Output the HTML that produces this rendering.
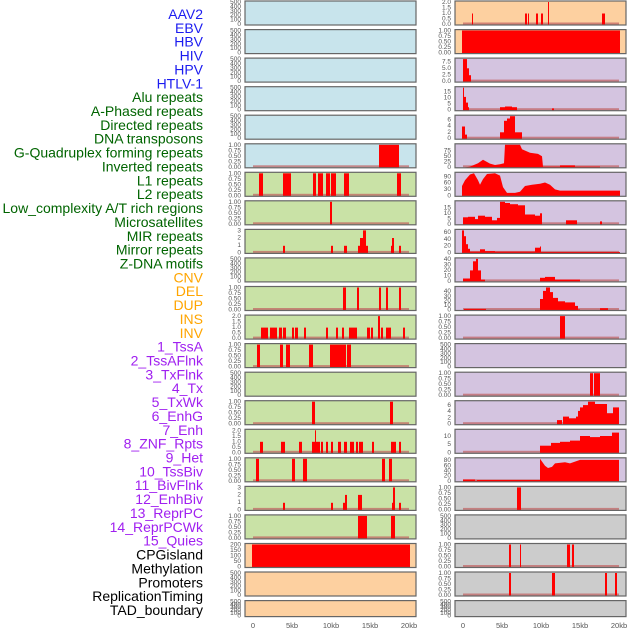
<!DOCTYPE html>
<html><head><meta charset="utf-8"><style>
body{margin:0;background:#fff;}
svg{display:block;font-family:"Liberation Sans",sans-serif;}
</style></head><body>
<svg id="s" width="630" height="630" xmlns="http://www.w3.org/2000/svg"></svg>
<script>
(function(){
var S=document.getElementById('s'),out='';
var labels=[["AAV2","#1c1cf0"],["EBV","#1c1cf0"],["HBV","#1c1cf0"],["HIV","#1c1cf0"],["HPV","#1c1cf0"],["HTLV-1","#1c1cf0"],
["Alu repeats","#006400"],["A-Phased repeats","#006400"],["Directed repeats","#006400"],["DNA transposons","#006400"],["G-Quadruplex forming repeats","#006400"],["Inverted repeats","#006400"],["L1 repeats","#006400"],["L2 repeats","#006400"],["Low_complexity A/T rich regions","#006400"],["Microsatellites","#006400"],["MIR repeats","#006400"],["Mirror repeats","#006400"],["Z-DNA motifs","#006400"],
["CNV","#ffa500"],["DEL","#ffa500"],["DUP","#ffa500"],["INS","#ffa500"],["INV","#ffa500"],
["1_TssA","#a020f0"],["2_TssAFlnk","#a020f0"],["3_TxFlnk","#a020f0"],["4_Tx","#a020f0"],["5_TxWk","#a020f0"],["6_EnhG","#a020f0"],["7_Enh","#a020f0"],["8_ZNF_Rpts","#a020f0"],["9_Het","#a020f0"],["10_TssBiv","#a020f0"],["11_BivFlnk","#a020f0"],["12_EnhBiv","#a020f0"],["13_ReprPC","#a020f0"],["14_ReprPCWk","#a020f0"],["15_Quies","#a020f0"],
["CPGisland","#000"],["Methylation","#000"],["Promoters","#000"],["ReplicationTiming","#000"],["TAD_boundary","#000"]];
labels.forEach(function(l,i){var y=19+i*13.86;out+='<text x="203" y="'+y.toFixed(1)+'" text-anchor="end" font-size="14" fill="'+l[1]+'">'+l[0]+'</text>';});
var BL='#c8e4ec',GR='#c9e2a6',PE='#fdd0a0',PU='#d4c4e0',GY='#cccccc';
var T5=["0","100","200","300","400","500"],T1=["0.00","0.25","0.50","0.75","1.00"],T2=["0.0","0.5","1.0","1.5","2.0"],T3=["0","1","2","3"];
var L=[[BL,T5,null],[BL,T5,null],[BL,T5,null],[BL,T5,null],[BL,T5,null],
[BL,T1,[[379,399,1]]],
[GR,T1,[[259,263,1],[283,291,1],[313,316,1],[318,323,1],[326,330,1],[331,336,1],[344,349,1],[397,401,1]]],
[GR,T1,[[330,332,1]]],
[GR,T3,[[283,285,.33],[331,333,.33],[344,347,.33],[358,360,.33],[360,363,.67],[363,366,1],[366,368,.33],[391,392,.33],[392,394,.67],[399,401,.33]]],
[GR,T5,null],
[GR,T1,[[343,346,1],[357,359,1],[379,381,1],[386,388,1],[399,401,1]]],
[GR,T2,[[261,268,.5],[270,277,.5],[279,282,.5],[283,286,.5],[292,294,.5],[295,298,.5],[304,306,.5],[326,328,.5],[336,338,.5],[342,344,.5],[349,357,.5],[367,370,.5],[371,373,.5],[378,380,1],[381,383,.5],[386,391,.5],[403,405,.5]]],
[GR,T1,[[257,260,1],[280,283,1],[286,290,1],[309,313,1],[330,346,1],[347,351,1]]],
[GR,T5,null],
[GR,T1,[[312,315,1],[390,393,1]]],
[GR,T2,[[260,263,.5],[281,285,.5],[299,302,.5],[312,315,.5],[315,316,1],[316,320,.5],[321,323,.5],[326,328,.5],[331,333,.5],[338,341,.5],[344,347,.5],[350,354,.5],[356,358,.5],[359,363,.5],[372,374,.5],[391,396,.5],[399,401,.5]]],
[GR,T1,[[256,259,1],[292,295,1],[303,307,1],[382,385,1],[389,392,1]]],
[GR,T3,[[283,285,.33],[331,333,.33],[343,345,.33],[345,347,.67],[358,362,.67],[392,393,.33],[393,395,1],[399,401,.33]]],
[GR,T1,[[358,367,1],[391,395,1]]],
[PE,["0","50","100","150","200"],[[252,410,1]]],
[PE,T5,null],[PE,T5,null]];
var R=[[PE,T2,[[472,473,.5],[525,527,.5],[528,529,.5],[536,538,.5],[541,543,.5],[548,549,1],[602,605,.5]]],
[PE,T1,[[462,620,1]]],
[PU,["0.0","2.5","5.0","7.5"],[[463,467,1],[467,469,.6],[469,471,.3]],null,8.5],
[PU,["0","5","10","15"],[[463,464,1],[464,466,.6],[466,468,.35],[468,469,.15],[500,505,.15],[505,512,.18],[512,517,.15],[552,554,.1]],null,18],
[PU,["0","2","4","6"],[[462,465,.55],[465,467,.2],[500,504,.3],[504,507,.8],[507,510,.9],[510,515,1],[515,522,.3]],null,7],
[PU,["0","25","50","75"],null,[[463,0],[470,.05],[478,.2],[483,.35],[490,.18],[495,.12],[500,.15],[504,.2],[505,1],[520,1],[522,.8],[530,.65],[538,.6],[542,.5],[543,.05],[560,.05],[560,.1],[575,.1],[575,.05],[600,.05],[600,0]],100],
[PU,["0","30","60","90"],null,[[462,0],[462,.45],[465,.7],[470,.95],[474,1],[478,.7],[480,.5],[483,.75],[487,.97],[495,1],[500,.9],[503,.4],[507,.15],[515,.15],[520,.2],[525,.45],[532,.5],[540,.55],[545,.6],[550,.5],[555,.3],[560,.25],[620,.25],[620,0]],105],
[PU,["0","5","10","15"],[[463,468,.33],[468,475,.35],[475,478,.25],[478,485,.4],[485,492,.35],[492,497,.2],[497,500,.3],[500,505,1],[505,510,.95],[510,518,.9],[518,525,.85],[525,535,.45],[535,540,.4],[540,542,.5],[566,577,.2],[600,602,.15]],null,20],
[PU,["0","20","40","60"],[[462,464,1],[464,466,.75],[466,468,.4],[468,470,.2],[470,480,.08],[480,485,.18],[485,495,.1],[495,510,.08],[510,535,.08],[535,540,.25],[540,541,.3],[541,620,.06]],null,65],
[PU,["0","10","20","30","40"],[[463,470,.15],[470,473,.5],[473,476,.9],[476,478,1],[478,481,.5],[481,485,.1],[540,545,.18],[545,555,.22],[555,575,.1],[575,580,.1]],null,40],
[PU,["0","10","20","30","40"],[[464,486,.07],[540,543,.5],[543,546,.85],[546,550,1],[550,553,.8],[553,558,.55],[558,565,.4],[565,575,.35],[575,578,.2],[578,580,.05],[600,608,.1]],null,48],
[PU,T1,[[560,565,1]]],
[PU,T5,null],
[PU,T1,[[590,593,1],[594,600,1]]],
[PU,["0","2","4","6"],[[557,562,.2],[563,569,.35],[569,576,.28],[576,578,.35],[578,580,.6],[580,583,.75],[583,588,.85],[588,595,1],[595,600,.9],[600,607,.9],[607,613,.5],[613,619,.75]],null,7],
[PU,["0","5","10"],[[540,551,.33],[551,560,.45],[560,570,.5],[570,580,.55],[580,590,.75],[590,600,.7],[600,612,.75],[612,619,.9]],null,13.5],
[PU,["0","20","40","60","80"],null,[[463,0],[463,.1],[475,.1],[475,.05],[477,.05],[477,.08],[540,.08],[540,1],[545,.7],[548,.6],[552,.65],[555,.8],[565,.85],[570,.8],[580,.95],[619,.95],[619,0]],85],
[GY,T1,[[517,521,1]]],
[GY,T5,null],
[GY,T1,[[509,511,1],[520,521,1],[567,570,1],[572,574,1]]],
[GY,T1,[[509,511,1],[552,555,1],[605,607,1],[615,617,1]]],
[GY,T5,null]];
function panel(x0,x1,z0,z1,ty,h,d){
  var bot=ty+h;
  out+='<rect x="'+x0+'" y="'+ty.toFixed(1)+'" width="'+(x1-x0)+'" height="'+h+'" fill="'+d[0]+'"/>';
  var t=d[1],mx=d[4]||parseFloat(t[t.length-1]);
  t.forEach(function(v){var y=bot-1-parseFloat(v)/mx*(h-2);
    out+='<text x="'+(x0-4)+'" y="'+(y+2).toFixed(1)+'" text-anchor="end" font-size="6.5" fill="#555">'+v+'</text>';});
  if(d[2]||d[3]){
    out+='<rect x="'+z0+'" y="'+(bot-2.5).toFixed(1)+'" width="'+(z1-z0)+'" height="2" fill="#c06060" opacity="0.7"/>';
  }
  if(d[2])d[2].forEach(function(b){var bh=b[2]*(h-1);
    out+='<rect x="'+b[0]+'" y="'+(bot-bh).toFixed(1)+'" width="'+Math.max(1,b[1]-b[0])+'" height="'+bh.toFixed(1)+'" fill="#f00"/>';});
  if(d[3]){var p=d[3].map(function(q){return q[0]+','+(bot-q[1]*(h-1)).toFixed(1);}).join(' ');
    out+='<polygon points="'+p+'" fill="#f00"/>';}
  out+='<rect x="'+x0+'" y="'+ty.toFixed(1)+'" width="'+(x1-x0)+'" height="'+h+'" fill="none" stroke="#666" stroke-width="1.2"/>';
}
for(var k=0;k<22;k++){
  var ty=1+k*28.55,hh=(k==21)?16:24;
  panel(245,416,253,409,ty,hh,L[k]);
  panel(455,626,463,619,ty,hh,R[k]);
}
var xl=["0","5kb","10kb","15kb","20kb"];
xl.forEach(function(s,i){
  out+='<text x="'+(253+i*39)+'" y="628" text-anchor="middle" font-size="7.5" fill="#555">'+s+'</text>';
  out+='<text x="'+(463+i*39)+'" y="628" text-anchor="middle" font-size="7.5" fill="#555">'+s+'</text>';
});
S.innerHTML=out;
})();
</script>
</body></html>
